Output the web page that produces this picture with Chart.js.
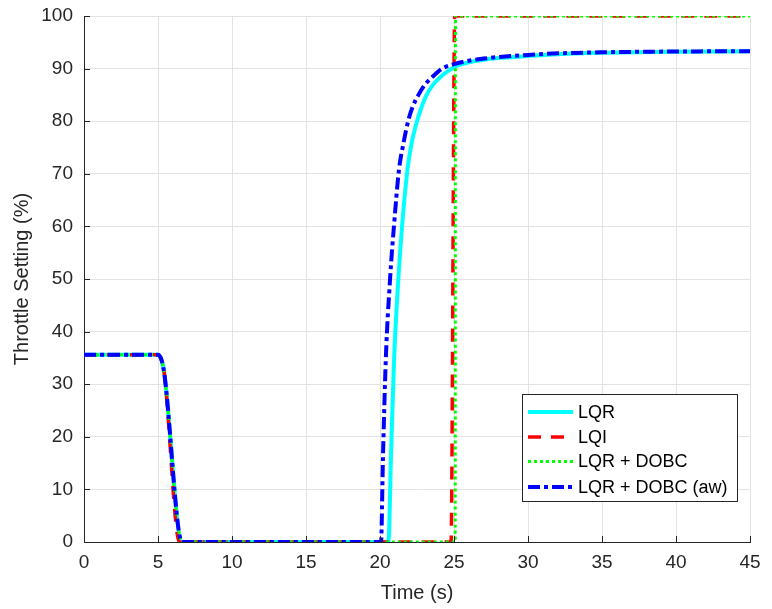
<!DOCTYPE html>
<html>
<head>
<meta charset="utf-8">
<script src="https://cdn.jsdelivr.net/npm/chart.js@4/dist/chart.umd.min.js"></script>
<style>
html,body{margin:0;padding:0;background:#fff;}
#wrap{width:772px;height:609px;position:relative;}
</style>
</head>
<body>
<div id="wrap"><canvas id="c" width="772" height="609"></canvas></div>
<script>
// ---- data ----
const seriesNames = ["LQR", "LQI", "LQR + DOBC", "LQR + DOBC (aw)"];

const lqrTime   = [0, 5.0, 5.15, 5.3, 5.45, 6.62, 20.57, 20.75, 20.95, 21.24, 21.5, 21.85, 22.15, 22.5, 22.8, 23.15, 23.6, 24.2, 24.85, 25.07, 26, 27, 28, 30, 32, 35, 40, 45];
const lqrValues = [35.6, 35.6, 35.2, 34.0, 31.5, 0, 0, 17, 34.6, 50, 60.3, 70.7, 76, 80, 82.6, 85, 87, 88.7, 90, 90.4, 91.2, 91.7, 92.0, 92.4, 92.75, 93.0, 93.2, 93.3];

const lqiTime   = [0, 5.0, 5.15, 5.3, 5.45, 6.45, 24.8, 25.05, 45];
const lqiValues = [35.6, 35.6, 35.2, 34.0, 31.5, 0, 0, 100, 100];

const dobcTime   = [0, 5.0, 5.15, 5.3, 5.45, 6.62, 25.08, 25.1, 45];
const dobcValues = [35.6, 35.6, 35.2, 34.0, 31.5, 0, 0, 100, 100];

const awTime   = [0, 5.0, 5.15, 5.3, 5.45, 6.62, 20.07, 20.2, 20.39, 20.68, 20.95, 21.28, 21.6, 21.9, 22.2, 22.6, 23.0, 23.5, 24.2, 25.07, 26, 27, 28, 30, 32, 35, 40, 45];
const awValues = [35.6, 35.6, 35.2, 34.0, 31.5, 0, 0, 16, 34.6, 50, 60.3, 70.7, 76, 80, 82.7, 85, 86.8, 88.3, 90, 90.9, 91.5, 91.9, 92.2, 92.6, 92.9, 93.1, 93.25, 93.3];

const xTicks = [0, 5, 10, 15, 20, 25, 30, 35, 40, 45];
const yTicks = [0, 10, 20, 30, 40, 50, 60, 70, 80, 90, 100];

function pts(t, v){ return t.map((x,i)=>({x:x, y:v[i]})); }

const FONT = "'Liberation Sans', Arial, Helvetica, sans-serif";
const AXIS = '#262626';

const datasets = [
  {label: seriesNames[0], data: pts(lqrTime, lqrValues), borderColor:'#00FFFF', borderWidth:4, borderDash:[], order:4},
  {label: seriesNames[1], data: pts(lqiTime, lqiValues), borderColor:'#FF0000', borderWidth:3.5, borderDash:[13,10], order:3},
  {label: seriesNames[2], data: pts(dobcTime, dobcValues), borderColor:'#00FF00', borderWidth:3, borderDash:[3,3], order:2},
  {label: seriesNames[3], data: pts(awTime, awValues), borderColor:'#0000FF', borderWidth:4, borderDash:[12,4,4,4], order:1}
].map(d=>Object.assign(d,{fill:false, pointRadius:0, cubicInterpolationMode:'monotone', tension:0.4}));

const extras = {
  id:'extras',
  afterDraw(chart){
    const ctx = chart.ctx, xs = chart.scales.x, ys = chart.scales.y, ca = chart.chartArea;
    ctx.save();
    // inward tick marks
    ctx.strokeStyle = AXIS; ctx.lineWidth = 1;
    xTicks.forEach(v=>{
      const px = Math.round(xs.getPixelForValue(v))+0.5;
      ctx.beginPath(); ctx.moveTo(px, ca.bottom); ctx.lineTo(px, ca.bottom-6); ctx.stroke();
    });
    yTicks.forEach(v=>{
      const py = Math.round(ys.getPixelForValue(v))+0.5;
      ctx.beginPath(); ctx.moveTo(ca.left, py); ctx.lineTo(ca.left+6, py); ctx.stroke();
    });
    // legend box
    const bx = 522, by = 394, bw = 215, bh = 107;
    ctx.fillStyle = '#fff';
    ctx.fillRect(bx, by, bw, bh);
    ctx.strokeStyle = AXIS; ctx.lineWidth = 1;
    ctx.strokeRect(bx+0.5, by+0.5, bw, bh);
    const rows = [412, 437, 461.5, 487];
    ctx.font = "18px " + FONT;
    ctx.textBaseline = 'middle';
    ctx.textAlign = 'left';
    chart.data.datasets.forEach((d,i)=>{
      const y = rows[i];
      ctx.strokeStyle = d.borderColor;
      ctx.lineWidth = d.borderWidth;
      ctx.setLineDash(d.borderDash);
      ctx.beginPath(); ctx.moveTo(528, y); ctx.lineTo(573, y); ctx.stroke();
      ctx.setLineDash([]);
      ctx.fillStyle = '#000';
      ctx.fillText(d.label, 578, y+1);
    });
    ctx.restore();
  }
};

new Chart(document.getElementById('c'), {
  type:'line',
  data:{datasets:datasets},
  plugins:[extras],
  options:{
    responsive:false,
    animation:false,
    events:[],
    layout:{padding:{left:0, top:16, right:22, bottom:0}},
    plugins:{legend:{display:false}, tooltip:{enabled:false}},
    scales:{
      x:{
        type:'linear', min:0, max:45,
        afterBuildTicks(s){ s.ticks = xTicks.map(v=>({value:v})); },
        afterFit(s){ s.height = 67; s.paddingLeft = 0; s.paddingRight = 0; },
        ticks:{color:AXIS, font:{family:FONT, size:19}, padding:9, maxRotation:0, autoSkip:false},
        grid:{color:'#e3e3e3', lineWidth:1, drawTicks:false},
        border:{color:AXIS, width:1},
        title:{display:true, text:'Time (s)', color:AXIS, font:{family:FONT, size:20}, padding:{top:0, bottom:4}}
      },
      y:{
        type:'linear', min:0, max:100,
        afterBuildTicks(s){ s.ticks = yTicks.map(v=>({value:v})); },
        afterFit(s){ s.width = 84; s.paddingTop = 0; s.paddingBottom = 0; },
        ticks:{color:AXIS, font:{family:FONT, size:19}, padding:11, autoSkip:false},
        grid:{color:'#e3e3e3', lineWidth:1, drawTicks:false},
        border:{color:AXIS, width:1},
        title:{display:true, text:'Throttle Setting (%)', color:AXIS, font:{family:FONT, size:20}, padding:{top:10, bottom:0}}
      }
    }
  }
});
</script>
</body>
</html>
